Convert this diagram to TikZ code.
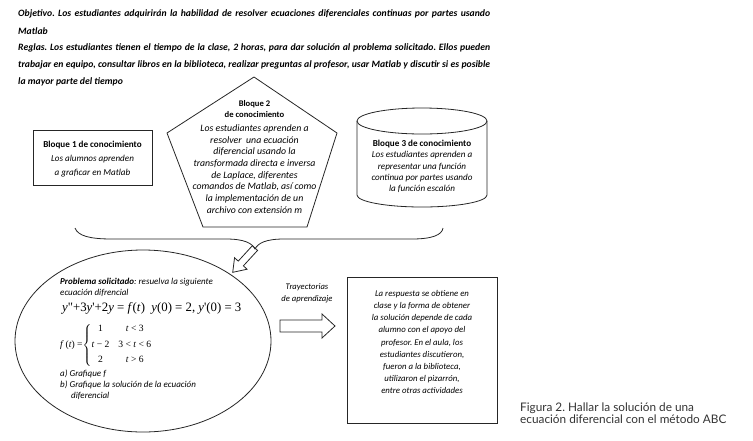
\documentclass[tikz,border=0pt]{standalone}
\usepackage{fontspec}
\setmainfont{Carlito}
\newfontfamily\eqfont{Liberation Serif}
\newfontfamily\capfont{Lato}
\usetikzlibrary{calc}
\frenchspacing
\tikzset{
  shapeline/.style={draw=black!85, line width=0.8pt},
  toptext/.style={anchor=west, inner sep=0pt, font=\fontsize{9.7}{11}\selectfont\bfseries\itshape},
  lefttext/.style={anchor=west, inner sep=0pt, font=\fontsize{9}{10}\selectfont\itshape},
  blocktext/.style={align=center, inner sep=0pt, font=\fontsize{9.1}{14}\selectfont\itshape},
  penhead/.style={align=center, inner sep=0pt, font=\fontsize{8.6}{11.8}\selectfont\bfseries},
  pentext/.style={align=center, inner sep=0pt, font=\fontsize{9.8}{11.7}\selectfont\itshape},
  cyltext/.style={align=center, inner sep=0pt, font=\fontsize{9.1}{11.2}\selectfont\itshape},
  resptext/.style={align=center, inner sep=0pt, font=\fontsize{8.8}{12.2}\selectfont\itshape},
  hollowarrow/.style={draw=black!85, line width=0.8pt, fill=white},
}
\newcommand{\fullline}[1]{\makebox[472pt][s]{#1}}
\newcommand{\hd}[1]{{\upshape\bfseries #1}}
\begin{document}
\begin{tikzpicture}[x=1pt,y=-1pt]
\useasboundingbox (0,0) rectangle (753,440);
% top text
\node[toptext] (obj1) at (18,14) {\fullline{Objetivo. Los estudiantes adquirirán la habilidad de resolver ecuaciones diferenciales continuas por partes usando}};
\node[toptext] (obj2) at (18,31) {Matlab};
\node[toptext] (reg1) at (18,48) {\fullline{Reglas. Los estudiantes tienen el tiempo de la clase, 2 horas, para dar solución al problema solicitado. Ellos pueden}};
\node[toptext] (reg2) at (18,65) {\fullline{trabajar en equipo, consultar libros en la biblioteca, realizar preguntas al profesor, usar Matlab y discutir si es posible}};
\node[toptext] (reg3) at (18,82) {la mayor parte del tiempo};
% block 1
\draw[shapeline] (33,130) rectangle (152,185);
\node[blocktext] (b1) at (92.5,159) {\hd{Bloque 1 de conocimiento}\\ Los alumnos aprenden\\ a graficar en Matlab};
% block 2 pentagon
\draw[shapeline] (254,77) -- (337,133) -- (307,227) -- (203,227) -- (167,133) -- cycle;
\node[penhead] (b2h) at (254.5,109) {Bloque 2\\ de conocimiento};
\node[pentext] (b2) at (254.5,169) {Los estudiantes aprenden a\\ resolver\ \ una ecuación\\ diferencial usando la\\ transformada directa e inversa\\ de Laplace, diferentes\\ comandos de Matlab, así como\\ la implementación de un\\ archivo con extensión m};
% block 3 cylinder
\draw[shapeline] (422,121) ellipse [x radius=65, y radius=13];
\draw[shapeline] (357,121) -- (357,195) arc[start angle=180, end angle=360, x radius=65, y radius=-12] -- (487,121);
\node[cyltext] (b3) at (422,166.5) {\hd{Bloque 3 de conocimiento}\\ Los estudiantes aprenden a\\ representar una función\\ continua por partes usando\\ la función escalón};
% arrow from brace tip
\begin{scope}[shift={(255,248)}, rotate=227.5]
\draw[hollowarrow] (0,3.5) -- (21,3.5) -- (21,8.5) -- (33,0) -- (21,-8.5) -- (21,-3.5) -- (0,-3.5) -- cycle;
\end{scope}
% brace
\coordinate (brL) at (75,228);
\coordinate (brT) at (255,249);
\coordinate (brR) at (443,228);
\draw[shapeline] (brL) .. controls (78,236) and (90,239) .. (112,239) -- (226,239) .. controls (244,239) and (252,243) .. (brT)
  .. controls (258,243) and (266,239) .. (284,239) -- (412,239) .. controls (432,239) and (442,235) .. (brR);
% ellipse
\draw[shapeline] (143,341) ellipse [x radius=128, y radius=91];
\node[lefttext] (p1) at (60,282) {\textbf{Problema solicitado}: resuelva la siguiente};
\node[lefttext] (p2) at (60,293) {ecuación difrencial};
\node[anchor=west, inner sep=0pt, font=\eqfont\fontsize{12.8}{14}\selectfont] (eq) at (62,308)
  {\textit{y}\textquotedbl+3\textit{y}\textquotesingle+2\textit{y} = \textit{f}(\textit{t})\ \ \textit{y}(0) = 2, \textit{y}\textquotesingle(0) = 3};
\node[anchor=west, inner sep=0pt, font=\eqfont\fontsize{9.6}{11}\selectfont] (pw) at (60,345)
  {\textit{f}\,(\textit{t}) =$\left\{\begin{tabular}{@{}c@{\hspace{9pt}}c@{}}1 & \textit{t} < 3\\[4.5pt] \textit{t} − 2 & 3 < \textit{t} < 6\\[4.5pt] 2 & \textit{t} > 6\end{tabular}\right.$};
\node[lefttext] (qa) at (60,374) {a) Grafique f};
\node[lefttext] (qb) at (60,385) {b) Grafique la solución de la ecuación};
\node[lefttext] (qc) at (71,396) {diferencial};
% trajectory arrow
\node[align=center, inner sep=0pt, font=\fontsize{8.6}{12}\selectfont\itshape] (tr) at (307,293) {Trayectorias\\de aprendizaje};
\draw[hollowarrow] (280,320) -- (322,320) -- (322,314) -- (335,326) -- (322,338) -- (322,332) -- (280,332) -- cycle;
% response box
\draw[shapeline] (347,277) rectangle (497,423);
\node[resptext] (resp) at (422,342) {La respuesta se obtiene en\\ clase y la forma de obtener\\ la solución depende de cada\\ alumno con el apoyo del\\ profesor. En el aula, los\\ estudiantes discutieron,\\ fueron a la biblioteca,\\ utilizaron el pizarrón,\\ entre otras actividades};
% caption
\node[anchor=west, inner sep=0pt, align=left, text=black!80, font=\capfont\fontsize{11.8}{12.5}\selectfont] (cap) at (520,413) {Figura 2. Hallar la solución de una\\ecuación diferencial con el método ABC};
\end{tikzpicture}
\end{document}
